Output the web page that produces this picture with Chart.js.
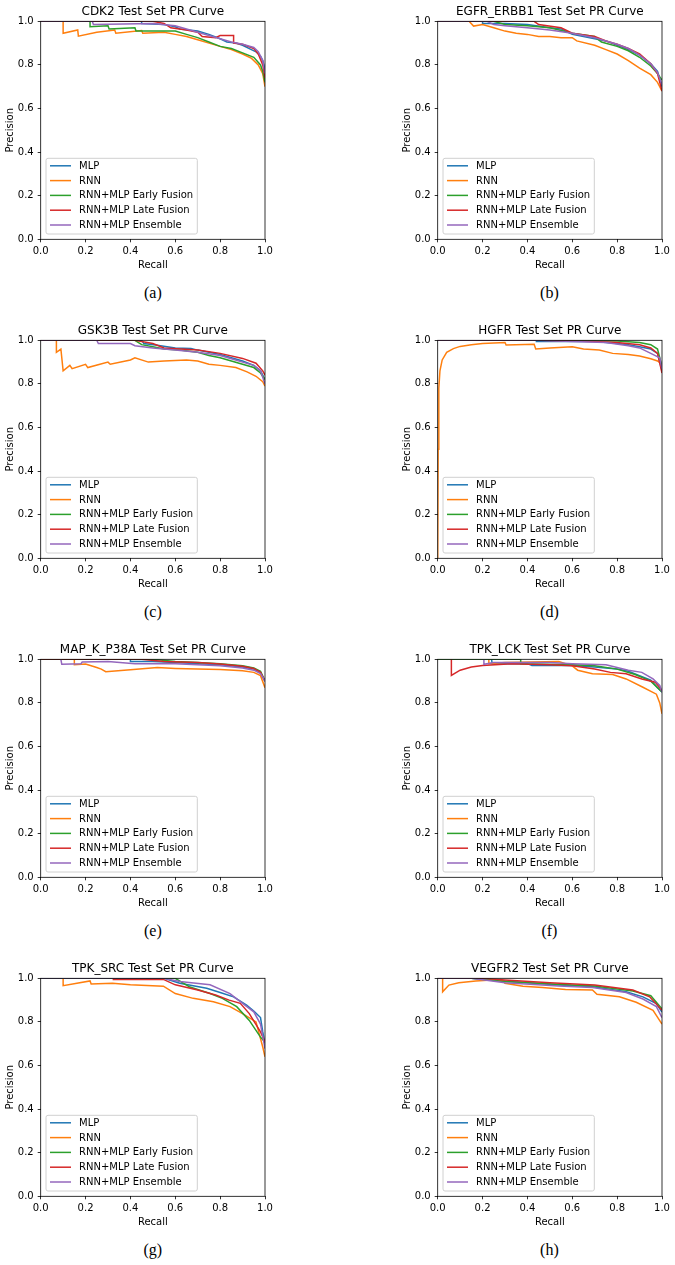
<!DOCTYPE html>
<html>
<head>
<meta charset="utf-8">
<script src="https://cdn.jsdelivr.net/npm/chart.js@4.4.0/dist/chart.umd.min.js"></script>
<style>
  html, body { margin: 0; padding: 0; background: #fff; }
  body { width: 675px; height: 1265px; position: relative; overflow: hidden; }
  canvas { position: absolute; }
  .cap { position: absolute; width: 120px; height: 20px; line-height: 20px; text-align: center;
         font-family: "Liberation Serif", "DejaVu Serif", serif; font-size: 16px; color: #000; }
</style>
</head>
<body>
<script>
// ---------- DATA ----------
const SERIES_NAMES = ["MLP", "RNN", "RNN+MLP Early Fusion", "RNN+MLP Late Fusion", "RNN+MLP Ensemble"];
const PANEL_TITLES = ["CDK2 Test Set PR Curve", "EGFR_ERBB1 Test Set PR Curve", "GSK3B Test Set PR Curve", "HGFR Test Set PR Curve",
                      "MAP_K_P38A Test Set PR Curve", "TPK_LCK Test Set PR Curve", "TPK_SRC Test Set PR Curve", "VEGFR2 Test Set PR Curve"];
const CAPTIONS = ["(a)", "(b)", "(c)", "(d)", "(e)", "(f)", "(g)", "(h)"];
const TICKS = [0.0, 0.2, 0.4, 0.6, 0.8, 1.0];

// [recall, precision]
const CDK2_MLP = [[0,1],[0.45,1],[0.45,0.99],[0.55,0.985],[0.6,0.975],[0.62,0.965],[0.7,0.955],[0.75,0.94],[0.8,0.92],[0.83,0.905],[0.87,0.9],[0.9,0.89],[0.93,0.875],[0.96,0.86],[0.98,0.84],[0.99,0.82],[1.0,0.78]];
const CDK2_RNN = [[0,1],[0.1,1],[0.1,0.945],[0.165,0.96],[0.168,0.932],[0.25,0.95],[0.33,0.96],[0.335,0.945],[0.45,0.958],[0.455,0.945],[0.55,0.95],[0.6,0.94],[0.65,0.93],[0.7,0.915],[0.75,0.9],[0.8,0.885],[0.85,0.87],[0.9,0.85],[0.94,0.83],[0.97,0.8],[0.99,0.76],[1.0,0.70]];
const CDK2_EARLY = [[0,1],[0.22,1],[0.22,0.975],[0.3,0.98],[0.305,0.965],[0.42,0.97],[0.425,0.955],[0.6,0.955],[0.65,0.94],[0.7,0.925],[0.75,0.905],[0.8,0.885],[0.85,0.875],[0.9,0.855],[0.95,0.835],[0.98,0.8],[0.99,0.77],[1.0,0.72]];
const CDK2_LATE = [[0,1],[0.5,1],[0.55,0.99],[0.58,0.97],[0.65,0.96],[0.7,0.95],[0.72,0.93],[0.78,0.925],[0.8,0.935],[0.86,0.935],[0.86,0.9],[0.9,0.895],[0.95,0.875],[0.97,0.85],[0.99,0.8],[1.0,0.74]];
const CDK2_ENS = [[0,1],[0.23,1],[0.235,0.985],[0.5,0.99],[0.6,0.98],[0.65,0.965],[0.7,0.95],[0.75,0.935],[0.8,0.92],[0.85,0.905],[0.9,0.895],[0.95,0.88],[0.97,0.86],[0.99,0.82],[1.0,0.76]];

const EGFR_MLP = [[0,1],[0.2,1],[0.2,0.99],[0.3,0.99],[0.4,0.985],[0.5,0.97],[0.55,0.965],[0.58,0.95],[0.6,0.94],[0.65,0.93],[0.7,0.92],[0.75,0.91],[0.8,0.89],[0.85,0.87],[0.9,0.845],[0.95,0.805],[0.98,0.77],[1.0,0.70]];
const EGFR_RNN = [[0,1],[0.14,1],[0.16,0.978],[0.2,0.985],[0.25,0.97],[0.3,0.955],[0.35,0.945],[0.4,0.94],[0.45,0.93],[0.5,0.93],[0.55,0.925],[0.6,0.925],[0.62,0.91],[0.7,0.89],[0.75,0.87],[0.8,0.85],[0.85,0.82],[0.9,0.785],[0.95,0.755],[0.98,0.72],[1.0,0.68]];
const EGFR_EARLY = [[0,1],[0.25,1],[0.3,0.985],[0.4,0.98],[0.5,0.97],[0.6,0.945],[0.7,0.93],[0.73,0.905],[0.8,0.885],[0.85,0.865],[0.9,0.835],[0.95,0.795],[0.98,0.76],[1.0,0.73]];
const EGFR_LATE = [[0,1],[0.43,1],[0.45,0.985],[0.55,0.97],[0.6,0.945],[0.7,0.93],[0.75,0.91],[0.8,0.895],[0.85,0.875],[0.9,0.85],[0.95,0.805],[0.98,0.76],[1.0,0.68]];
const EGFR_ENS = [[0,1],[0.22,1],[0.25,0.985],[0.3,0.98],[0.4,0.97],[0.5,0.96],[0.6,0.945],[0.7,0.925],[0.75,0.91],[0.8,0.895],[0.85,0.875],[0.9,0.845],[0.95,0.805],[0.98,0.765],[1.0,0.71]];

const GSK3B_MLP = [[0,1],[0.45,1],[0.46,0.985],[0.52,0.977],[0.6,0.965],[0.67,0.962],[0.7,0.955],[0.75,0.945],[0.8,0.935],[0.85,0.92],[0.9,0.905],[0.95,0.885],[0.98,0.86],[1.0,0.82]];
const GSK3B_RNN = [[0.07,1],[0.07,0.945],[0.09,0.96],[0.1,0.86],[0.13,0.885],[0.14,0.87],[0.2,0.89],[0.21,0.875],[0.3,0.9],[0.31,0.89],[0.4,0.91],[0.42,0.92],[0.48,0.9],[0.55,0.905],[0.65,0.91],[0.7,0.905],[0.75,0.89],[0.8,0.885],[0.87,0.875],[0.92,0.855],[0.96,0.835],[0.99,0.81],[1.0,0.79]];
const GSK3B_EARLY = [[0,1],[0.42,1],[0.45,0.98],[0.5,0.97],[0.55,0.96],[0.62,0.955],[0.7,0.945],[0.75,0.93],[0.8,0.92],[0.85,0.905],[0.9,0.89],[0.95,0.875],[0.98,0.85],[1.0,0.82]];
const GSK3B_LATE = [[0,1],[0.42,1],[0.5,0.985],[0.55,0.965],[0.7,0.955],[0.8,0.94],[0.9,0.917],[0.96,0.895],[0.99,0.86],[1.0,0.84]];
const GSK3B_ENS = [[0,1],[0.25,1],[0.257,0.985],[0.4,0.985],[0.42,0.975],[0.5,0.965],[0.6,0.955],[0.7,0.945],[0.8,0.93],[0.85,0.915],[0.9,0.9],[0.95,0.885],[0.98,0.86],[1.0,0.80]];

const HGFR_MLP = [[0,1],[0.44,1],[0.44,0.995],[0.7,0.995],[0.8,0.985],[0.85,0.98],[0.9,0.97],[0.95,0.96],[0.98,0.94],[1.0,0.86]];
const HGFR_RNN = [[0,0],[0.002,0.5],[0.005,0.78],[0.01,0.86],[0.02,0.91],[0.04,0.945],[0.07,0.962],[0.1,0.972],[0.15,0.98],[0.2,0.985],[0.3,0.99],[0.305,0.978],[0.43,0.982],[0.437,0.96],[0.5,0.965],[0.6,0.97],[0.65,0.96],[0.72,0.955],[0.78,0.94],[0.85,0.935],[0.9,0.928],[0.95,0.915],[0.98,0.905],[1.0,0.89]];
const HGFR_EARLY = [[0,1],[0.5,1],[0.8,0.997],[0.9,0.99],[0.95,0.98],[0.98,0.96],[1.0,0.88]];
const HGFR_LATE = [[0,1],[0.45,1],[0.7,0.995],[0.8,0.99],[0.9,0.98],[0.95,0.965],[0.98,0.94],[1.0,0.85]];
const HGFR_ENS = [[0,1],[0.45,1],[0.6,0.995],[0.75,0.99],[0.85,0.975],[0.9,0.965],[0.95,0.94],[0.97,0.93],[0.99,0.92],[1.0,0.87]];

const MAPK_MLP = [[0,1],[0.4,1],[0.4,0.99],[0.5,0.99],[0.6,0.985],[0.7,0.98],[0.8,0.975],[0.9,0.965],[0.95,0.955],[0.98,0.94],[1.0,0.9]];
const MAPK_RNN = [[0.15,1],[0.15,0.975],[0.2,0.978],[0.25,0.962],[0.27,0.955],[0.29,0.943],[0.4,0.952],[0.52,0.962],[0.6,0.958],[0.7,0.955],[0.8,0.953],[0.9,0.948],[0.95,0.94],[0.98,0.925],[1.0,0.87]];
const MAPK_EARLY = [[0,1],[0.5,1],[0.6,0.99],[0.7,0.985],[0.8,0.98],[0.9,0.97],[0.95,0.96],[0.98,0.945],[1.0,0.9]];
const MAPK_LATE = [[0,1],[0.45,1],[0.55,0.99],[0.7,0.985],[0.8,0.978],[0.9,0.968],[0.95,0.958],[0.98,0.94],[1.0,0.9]];
const MAPK_ENS = [[0.09,1],[0.094,0.977],[0.18,0.98],[0.185,0.988],[0.3,0.99],[0.42,0.98],[0.6,0.98],[0.7,0.975],[0.8,0.97],[0.9,0.96],[0.95,0.95],[0.98,0.935],[1.0,0.9]];

const LCK_MLP = [[0.24,1],[0.243,0.98],[0.4,0.98],[0.42,0.972],[0.6,0.972],[0.7,0.965],[0.8,0.955],[0.85,0.945],[0.9,0.925],[0.95,0.905],[0.98,0.87],[1.0,0.85]];
const LCK_RNN = [[0.228,1],[0.228,0.98],[0.3,0.985],[0.54,0.99],[0.6,0.97],[0.624,0.95],[0.69,0.934],[0.78,0.93],[0.84,0.91],[0.915,0.872],[0.975,0.84],[0.99,0.8],[1.0,0.75]];
const LCK_EARLY = [[0,1],[0.37,1],[0.37,0.98],[0.6,0.975],[0.7,0.97],[0.8,0.955],[0.88,0.93],[0.95,0.9],[0.98,0.87],[1.0,0.85]];
const LCK_LATE = [[0.061,1],[0.061,0.926],[0.1,0.95],[0.15,0.965],[0.2,0.972],[0.33,0.98],[0.5,0.975],[0.6,0.97],[0.7,0.955],[0.77,0.94],[0.84,0.934],[0.91,0.91],[0.97,0.895],[0.99,0.87],[1.0,0.856]];
const LCK_ENS = [[0.206,1],[0.206,0.977],[0.25,0.985],[0.5,0.985],[0.6,0.98],[0.75,0.975],[0.85,0.95],[0.91,0.94],[0.96,0.91],[0.99,0.88],[1.0,0.85]];

const SRC_MLP = [[0,1],[0.55,1],[0.62,0.977],[0.74,0.954],[0.8,0.935],[0.86,0.915],[0.918,0.877],[0.95,0.85],[0.98,0.82],[0.99,0.754],[1.0,0.7]];
const SRC_RNN = [[0.1,1],[0.1,0.966],[0.22,0.988],[0.225,0.974],[0.32,0.977],[0.4,0.97],[0.547,0.964],[0.6,0.93],[0.68,0.908],[0.77,0.892],[0.844,0.87],[0.9,0.838],[0.96,0.8],[0.99,0.685],[1.0,0.64]];
const SRC_EARLY = [[0,1],[0.6,1],[0.665,0.96],[0.755,0.93],[0.81,0.908],[0.874,0.87],[0.93,0.807],[0.98,0.73],[1.0,0.707]];
const SRC_LATE = [[0.324,1],[0.324,0.995],[0.547,0.995],[0.6,0.97],[0.7,0.946],[0.78,0.923],[0.84,0.9],[0.89,0.885],[0.93,0.838],[0.98,0.754],[1.0,0.707]];
const SRC_ENS = [[0,1],[0.55,1],[0.62,0.985],[0.755,0.97],[0.844,0.93],[0.9,0.885],[0.95,0.846],[0.98,0.79],[1.0,0.677]];

const VEGFR2_MLP = [[0,1],[0.15,1],[0.32,0.985],[0.54,0.969],[0.69,0.961],[0.84,0.938],[0.915,0.915],[0.975,0.884],[1.0,0.845]];
const VEGFR2_RNN = [[0.022,1],[0.022,0.938],[0.05,0.969],[0.094,0.98],[0.17,0.988],[0.24,0.992],[0.29,0.99],[0.3,0.977],[0.38,0.964],[0.467,0.958],[0.57,0.949],[0.69,0.946],[0.71,0.927],[0.81,0.915],[0.885,0.89],[0.96,0.853],[1.0,0.79]];
const VEGFR2_EARLY = [[0,1],[0.15,1],[0.3,0.985],[0.57,0.97],[0.7,0.965],[0.87,0.942],[0.95,0.92],[1.0,0.86]];
const VEGFR2_LATE = [[0,1],[0.2,1],[0.3,0.992],[0.5,0.98],[0.7,0.969],[0.87,0.946],[0.945,0.915],[1.0,0.853]];
const VEGFR2_ENS = [[0,1],[0.15,1],[0.3,0.98],[0.54,0.965],[0.69,0.958],[0.84,0.935],[0.915,0.905],[0.975,0.87],[1.0,0.82]];

const PANEL_SERIES = [
  [CDK2_MLP, CDK2_RNN, CDK2_EARLY, CDK2_LATE, CDK2_ENS],
  [EGFR_MLP, EGFR_RNN, EGFR_EARLY, EGFR_LATE, EGFR_ENS],
  [GSK3B_MLP, GSK3B_RNN, GSK3B_EARLY, GSK3B_LATE, GSK3B_ENS],
  [HGFR_MLP, HGFR_RNN, HGFR_EARLY, HGFR_LATE, HGFR_ENS],
  [MAPK_MLP, MAPK_RNN, MAPK_EARLY, MAPK_LATE, MAPK_ENS],
  [LCK_MLP, LCK_RNN, LCK_EARLY, LCK_LATE, LCK_ENS],
  [SRC_MLP, SRC_RNN, SRC_EARLY, SRC_LATE, SRC_ENS],
  [VEGFR2_MLP, VEGFR2_RNN, VEGFR2_EARLY, VEGFR2_LATE, VEGFR2_ENS]
];

// ---------- STYLE / LAYOUT ----------
const COLORS = ["#1f77b4", "#ff7f0e", "#2ca02c", "#d62728", "#9467bd"];
const FONT = "DejaVu Sans";
const COL_LEFT = [0, 396.6];
const ROW_TOP = [0, 318.7, 637.7, 956.7];
const CANVAS_W = 280, CANVAS_H = 272;
const Y_AXIS_W = 40.7, X_AXIS_H = 32.7;

const framePlugin = {
  id: 'frame',
  afterDatasetsDraw(chart) {
    const a = chart.chartArea, ctx = chart.ctx;
    ctx.save();
    const bx = a.left + 5.3, bw = 151.3, bh = 75.7, by = a.bottom - 5.3 - bh;
    const r = 2;
    ctx.beginPath();
    ctx.moveTo(bx + r, by);
    ctx.lineTo(bx + bw - r, by); ctx.quadraticCurveTo(bx + bw, by, bx + bw, by + r);
    ctx.lineTo(bx + bw, by + bh - r); ctx.quadraticCurveTo(bx + bw, by + bh, bx + bw - r, by + bh);
    ctx.lineTo(bx + r, by + bh); ctx.quadraticCurveTo(bx, by + bh, bx, by + bh - r);
    ctx.lineTo(bx, by + r); ctx.quadraticCurveTo(bx, by, bx + r, by);
    ctx.closePath();
    ctx.fillStyle = "rgba(255,255,255,0.8)";
    ctx.fill();
    ctx.strokeStyle = "#d0d0d0";
    ctx.lineWidth = 1;
    ctx.stroke();
    ctx.font = "10px '" + FONT + "'";
    ctx.textBaseline = "middle";
    ctx.textAlign = "left";
    chart.data.datasets.forEach((ds, i) => {
      const yy = by + 7.5 + i * 14.8;
      ctx.strokeStyle = ds.borderColor;
      ctx.lineWidth = 1.5;
      ctx.beginPath(); ctx.moveTo(bx + 4, yy); ctx.lineTo(bx + 25, yy); ctx.stroke();
      ctx.fillStyle = "#000";
      ctx.fillText(ds.label, bx + 33, yy + 0.5);
    });
    ctx.strokeStyle = "#000";
    ctx.lineWidth = 0.8;
    ctx.strokeRect(a.left, a.top, a.right - a.left, a.bottom - a.top);
    ctx.restore();
  }
};

function axisCommon(titleText, isX) {
  return {
    type: 'linear', min: 0, max: 1,
    afterBuildTicks(s) { s.ticks = TICKS.map(v => ({ value: v })); },
    ticks: { callback: v => Number(v).toFixed(1), font: { family: FONT, size: 10 }, color: "#000",
             padding: isX ? 3 : 4, maxRotation: 0, autoSkip: false },
    grid: { display: true, drawOnChartArea: false, drawTicks: true, tickLength: 3, color: "#000", lineWidth: 0.8 },
    border: { display: false },
    title: { display: true, text: titleText, font: { family: FONT, size: 10 }, color: "#000",
             padding: isX ? { top: 0, bottom: 1 } : { top: 4, bottom: 0 } },
    afterFit(s) { if (isX) s.height = X_AXIS_H; else s.width = Y_AXIS_W; }
  };
}

PANEL_SERIES.forEach((series, p) => {
  const col = p % 2, row = Math.floor(p / 2);
  const cv = document.createElement('canvas');
  cv.width = CANVAS_W; cv.height = CANVAS_H;
  cv.style.left = COL_LEFT[col] + "px";
  cv.style.top = ROW_TOP[row] + "px";
  cv.style.width = CANVAS_W + "px"; cv.style.height = CANVAS_H + "px";
  document.body.appendChild(cv);

  new Chart(cv, {
    type: 'line',
    data: {
      datasets: series.map((d, i) => ({
        label: SERIES_NAMES[i],
        data: d.map(pt => ({ x: pt[0], y: pt[1] })),
        borderColor: COLORS[i], backgroundColor: COLORS[i],
        borderWidth: 1.5, pointRadius: 0, fill: false, tension: 0,
        order: 5 - i
      }))
    },
    options: {
      responsive: false, animation: false, devicePixelRatio: 1,
      layout: { padding: { left: 0, right: 15, top: 0, bottom: 0 } },
      plugins: {
        legend: { display: false }, tooltip: { enabled: false },
        title: { display: true, fullSize: false, text: PANEL_TITLES[p], color: "#000",
                 font: { family: FONT, size: 12, weight: 'normal' }, padding: { top: 4.5, bottom: 2.4 } }
      },
      scales: { x: axisCommon("Recall", true), y: axisCommon("Precision", false) }
    },
    plugins: [framePlugin]
  });

  const cap = document.createElement('div');
  cap.className = 'cap';
  cap.textContent = CAPTIONS[p];
  const cx = COL_LEFT[col] + Y_AXIS_W + 224.3 / 2;
  cap.style.left = (cx - 60) + "px";
  cap.style.top = (ROW_TOP[row] + 293.3 - 10) + "px";
  document.body.appendChild(cap);
});
</script>
</body>
</html>
